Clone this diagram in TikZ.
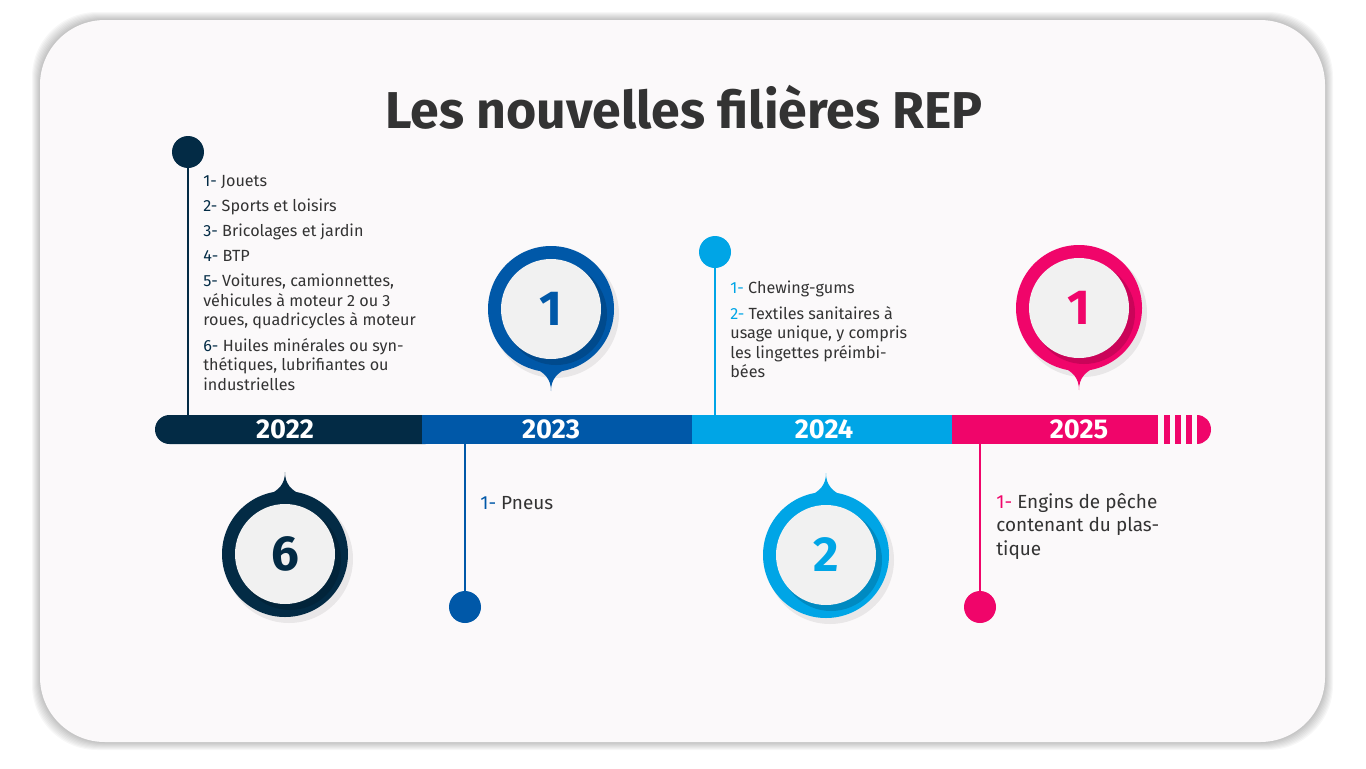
\documentclass[tikz,border=0pt]{standalone}
\usepackage{fontspec}
\setmainfont{Fira Sans}
\usetikzlibrary{positioning, calc}
\usepackage{xcolor}

\definecolor{c22}{HTML}{032B45}
\definecolor{c23}{HTML}{0058A8}
\definecolor{c24}{HTML}{00A5E6}
\definecolor{c25}{HTML}{F0056A}
\definecolor{txt}{HTML}{333333}
\definecolor{cardbg}{HTML}{FBF9FA}
\definecolor{disc}{HTML}{F1F1F1}

\begin{document}
\begin{tikzpicture}[
    x=0.02cm, y=0.02cm,
    card/.style={fill=cardbg, rounded corners=1.3cm},
    year/.style={text=white, font=\bfseries\fontsize{15.5}{16}\selectfont, inner sep=0pt},
    dot/.style={circle, fill=#1, minimum size=0.64cm, inner sep=0pt},
    stem/.style={draw=#1, line width=1.1pt},
    items/.style={text=txt, font=\fontsize{9.2}{11.1}\selectfont, align=left, anchor=north west, inner sep=0pt},
    bigitems/.style={items, font=\fontsize{10.8}{13.3}\selectfont},
    pics/pinbadge/.style args={#1/#2/#3}{code={
        \fill[black, opacity=0.07] (4,-5) circle[radius=64];
        \fill[#1, rotate=#2] (-18,-58) .. controls (-6,-64) and (0,-70) .. (0,-82)
            .. controls (0,-70) and (6,-64) .. (18,-58) -- cycle;
        \fill[#1] (0,0) circle[radius=63];
        \fill[#1!65!black, opacity=0.45] (5,-5) circle[radius=51];
        \fill[disc] (0,0) circle[radius=50];
        \node[text=#1, font=\bfseries\fontsize{28}{30}\selectfont] (-num) at (0,0) {#3};
    }}
]
\useasboundingbox (0,0) rectangle (1366,-768);

% card
\foreach \s in {1,...,8}
    \fill[black, opacity=0.03, rounded corners=1.3cm] ({40-\s},{-20+\s}) rectangle ({1325+\s},{-742-\s});
\fill[card] (40,-20) rectangle (1325,-742);

% title
\node[text=txt, font=\bfseries\fontsize{29.5}{32}\selectfont] (title) at (684,-107) {Les nouvelles filières REP};

% timeline bar
\coordinate (bartop) at (0,-415);
\coordinate (barbot) at (0,-444);
\fill[c22, rounded corners=0.29cm] (155,-415) rectangle (440,-444);
\fill[c23] (422,-415) rectangle (692,-444);
\fill[c24] (692,-415) rectangle (952,-444);
\fill[c25] (952,-415) rectangle (1158,-444);
\fill[c25] (1164,-415) rectangle (1170,-444);
\fill[c25] (1175,-415) rectangle (1181,-444);
\fill[c25] (1186,-415) rectangle (1192,-444);
\fill[c25] (1197,-415) arc[start angle=90, end angle=-90, x radius=14, y radius=14.5] -- cycle;

\node[year] (y22) at (285,-429.5) {2022};
\node[year] (y23) at (551,-429.5) {2023};
\node[year] (y24) at (824,-429.5) {2024};
\node[year] (y25) at (1079,-429.5) {2025};

% pins
\node[dot=c22] (d22) at (188,-152) {};
\node[dot=c24] (d24) at (715,-252) {};
\node[dot=c23] (d23) at (465,-607) {};
\node[dot=c25] (d25) at (980,-607) {};

\draw[stem=c22] (d22) -- (d22 |- bartop);
\draw[stem=c24] (d24) -- (d24 |- bartop);
\draw[stem=c23] (d23) -- (d23 |- barbot);
\draw[stem=c25] (d25) -- (d25 |- barbot);

% badges
\pic (b23) at (551,-309) {pinbadge={c23/0/1}};
\pic (b25) at (1079,-308) {pinbadge={c25/0/1}};
\pic (b22) at (285,-554) {pinbadge={c22/180/6}};
\pic (b24) at (826,-555) {pinbadge={c24/180/2}};

% lists
\node[items] (t22) at (203,-175) {%
    {\color{c22}1-} Jouets\\[3.2pt]
    {\color{c22}2-} Sports et loisirs\\[3.2pt]
    {\color{c22}3-} Bricolages et jardin\\[3.2pt]
    {\color{c22}4-} BTP\\[3.2pt]
    {\color{c22}5-} Voitures, camionnettes,\\
    véhicules à moteur 2 ou 3\\
    roues, quadricycles à moteur\\[3.2pt]
    {\color{c22}6-} Huiles minérales ou syn-\\
    thétiques, lubrifiantes ou\\
    industrielles};
\node[items] (t24) at (730,-281) {%
    {\color{c24}1-} Chewing-gums\\[3.2pt]
    {\color{c24}2-} Textiles sanitaires à\\
    usage unique, y compris\\
    les lingettes préimbi-\\
    bées};
\node[bigitems] (t23) at (480,-496) {{\color{c23}1-} Pneus};
\node[bigitems] (t25) at (996,-493) {%
    {\color{c25}1-} Engins de pêche\\
    contenant du plas-\\
    tique};

\end{tikzpicture}
\end{document}
